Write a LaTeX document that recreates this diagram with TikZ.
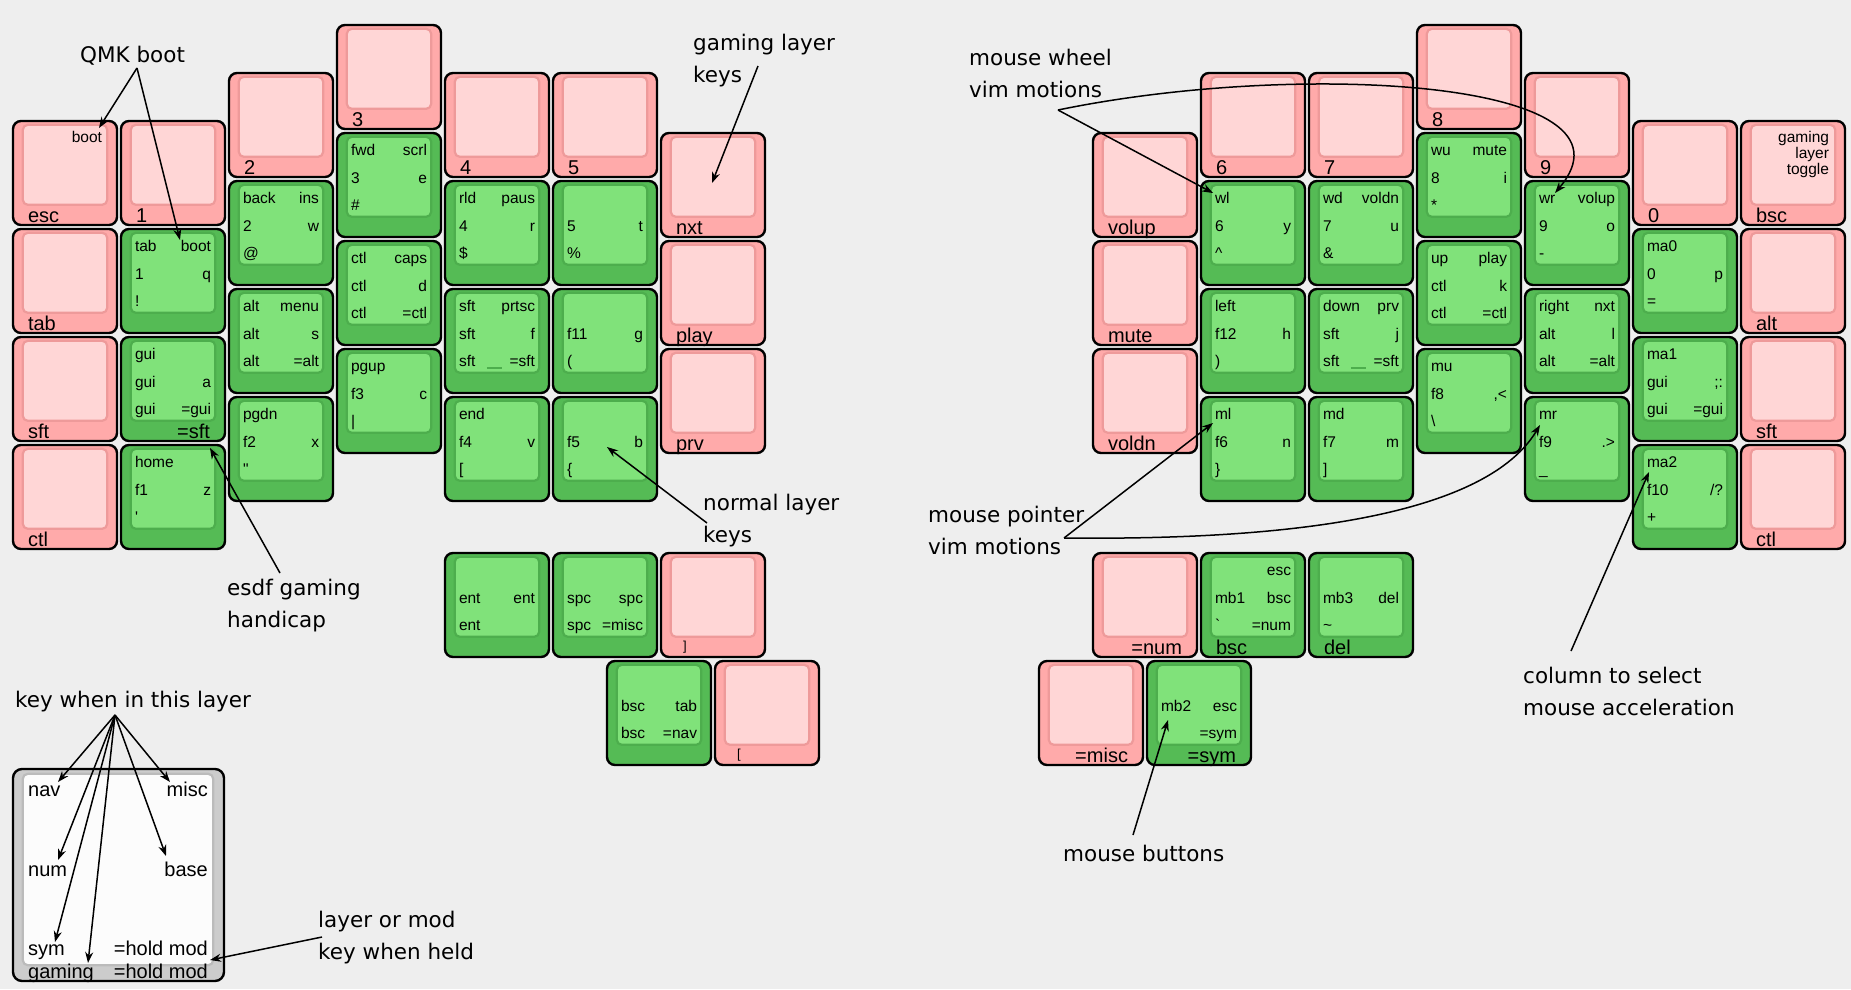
\documentclass[tikz,border=0pt]{standalone}
\usepackage{fontspec}
\setmainfont{Liberation Sans}
\newfontfamily\annfont{DejaVu Sans}
\usetikzlibrary{calc,arrows.meta}

\definecolor{bgcol}{HTML}{EEEEEE}
\definecolor{pkout}{HTML}{FFAAAA}
\definecolor{pkin}{HTML}{FFD6D6}
\definecolor{pkedge}{HTML}{EE9A9A}
\definecolor{gkout}{HTML}{55BB55}
\definecolor{gkin}{HTML}{80E27A}
\definecolor{gkedge}{HTML}{4DAE4D}
\definecolor{lgout}{HTML}{CCCCCC}
\definecolor{lgin}{HTML}{FCFCFC}
\definecolor{lgedge}{HTML}{BBBBBB}

\tikzset{
  keycap/.style={draw=black, line width=2.4pt, rounded corners=8pt,
    minimum width=104pt, minimum height=104pt, inner sep=0pt},
  ktext/.style={inner sep=0pt, font=\fontsize{15.5}{17}\selectfont},
  klabel/.style={inner sep=0pt, font=\fontsize{20}{22}\selectfont},
  ann/.style={inner sep=0pt, align=left, font=\annfont\fontsize{21.5}{32}\selectfont},
  annarrow/.style={line width=1.5pt, -{Stealth[length=11pt,width=8pt]}},
}

% key body: name, x, y, colour prefix
\newcommand{\keybody}[4]{%
  \node[keycap, fill=#4out] (#1) at (#2+53,#3+53) {};
  \filldraw[draw=#4edge, fill=#4in, line width=2.2pt, rounded corners=5pt]
    ($(#1.north west)+(11,5)$) rectangle ($(#1.north east)+(-11,85)$);
}
% bottom labels
\newcommand{\llabel}[2]{\node[klabel, anchor=base west] (#1-l) at ($(#1.north west)+(16,103)$) {#2};}
\newcommand{\rlabel}[2]{\node[klabel, anchor=base east] (#1-r) at ($(#1.north east)+(-16,103)$) {#2};}
% pink key: name, x, y, label
\newcommand{\pkey}[4]{\keybody{#1}{#2}{#3}{pk}\llabel{#1}{#4}}
% green key: name, x, y, then six legends
\newcommand{\gkey}[9]{%
  \keybody{#1}{#2}{#3}{gk}
  \node[ktext, anchor=base west] (#1-a) at ($(#1.north west)+(15,24)$) {#4};
  \node[ktext, anchor=base east] (#1-b) at ($(#1.north east)+(-15,24)$) {#5};
  \node[ktext, anchor=base west] (#1-c) at ($(#1.north west)+(15,52)$) {#6};
  \node[ktext, anchor=base east] (#1-d) at ($(#1.north east)+(-15,52)$) {#7};
  \node[ktext, anchor=base west] (#1-e) at ($(#1.north west)+(15,79)$) {#8};
  \node[ktext, anchor=base east] (#1-f) at ($(#1.north east)+(-15,79)$) {#9};
}
\newcommand{\gamemark}[1]{\draw[gkedge, line width=1.4pt] ($(#1.north west)+(43,80)$) -- ++(15,0);}

\begin{document}
\begin{tikzpicture}[x=1pt, y=-1pt]
\useasboundingbox (0,0) rectangle (1851,989);
\fill[bgcol] (0,0) rectangle (1851,989);

% left half
\pkey{esc}{12}{120}{esc}
\node[ktext, anchor=base east] (esc-b) at ($(esc.north east)+(-16,23)$) {boot};
\pkey{tab}{12}{228}{tab}
\pkey{lsft}{12}{336}{sft}
\pkey{lctl}{12}{444}{ctl}
\pkey{n1}{120}{120}{1}
\gkey{q}{120}{228}{tab}{boot}{1}{q}{!}{}
\gkey{a}{120}{336}{gui}{}{gui}{a}{gui}{=gui}
\rlabel{a}{=sft}
\gkey{z}{120}{444}{home}{}{f1}{z}{\textquotesingle}{}
\pkey{n2}{228}{72}{2}
\gkey{w}{228}{180}{back}{ins}{2}{w}{@}{}
\gkey{s}{228}{288}{alt}{menu}{alt}{s}{alt}{=alt}
\gkey{x}{228}{396}{pgdn}{}{f2}{x}{\textquotedbl}{}
\pkey{n3}{336}{24}{3}
\gkey{e}{336}{132}{fwd}{scrl}{3}{e}{\#}{}
\gkey{d}{336}{240}{ctl}{caps}{ctl}{d}{ctl}{=ctl}
\gkey{c}{336}{348}{pgup}{}{f3}{c}{|}{}
\pkey{n4}{444}{72}{4}
\gkey{r}{444}{180}{rld}{paus}{4}{r}{\$}{}
\gkey{f}{444}{288}{sft}{prtsc}{sft}{f}{sft}{=sft}
\gamemark{f}
\gkey{v}{444}{396}{end}{}{f4}{v}{[}{}
\pkey{n5}{552}{72}{5}
\gkey{t}{552}{180}{}{}{5}{t}{\%}{}
\gkey{g}{552}{288}{}{}{f11}{g}{(}{}
\gkey{b}{552}{396}{}{}{f5}{b}{\{}{}
\pkey{nxt}{660}{132}{nxt}
\pkey{play}{660}{240}{play}
\pkey{prv}{660}{348}{prv}
\gkey{ent}{444}{552}{}{}{ent}{ent}{ent}{}
\gkey{spc}{552}{552}{}{}{spc}{spc}{spc}{=misc}
\pkey{rbrk}{660}{552}{}
\node[ktext, font=\fontsize{13}{15}\selectfont, anchor=base west] (rbrk-s) at ($(rbrk.north west)+(23,99)$) {]};
\gkey{lbsc}{606}{660}{}{}{bsc}{tab}{bsc}{=nav}
\pkey{lbrk}{714}{660}{}
\node[ktext, font=\fontsize{13}{15}\selectfont, anchor=base west] (lbrk-s) at ($(lbrk.north west)+(23,99)$) {[};

% right half
\pkey{volup}{1092}{132}{volup}
\pkey{mute}{1092}{240}{mute}
\pkey{voldn}{1092}{348}{voldn}
\pkey{n6}{1200}{72}{6}
\gkey{y}{1200}{180}{wl}{}{6}{y}{\textasciicircum}{}
\gkey{h}{1200}{288}{left}{}{f12}{h}{)}{}
\gkey{nn}{1200}{396}{ml}{}{f6}{n}{\}}{}
\pkey{n7}{1308}{72}{7}
\gkey{u}{1308}{180}{wd}{voldn}{7}{u}{\&}{}
\gkey{j}{1308}{288}{down}{prv}{sft}{j}{sft}{=sft}
\gamemark{j}
\gkey{m}{1308}{396}{md}{}{f7}{m}{]}{}
\pkey{n8}{1416}{24}{8}
\gkey{i}{1416}{132}{wu}{mute}{8}{i}{*}{}
\gkey{k}{1416}{240}{up}{play}{ctl}{k}{ctl}{=ctl}
\gkey{comma}{1416}{348}{mu}{}{f8}{,<}{\textbackslash}{}
\pkey{n9}{1524}{72}{9}
\gkey{o}{1524}{180}{wr}{volup}{9}{o}{-}{}
\gkey{l}{1524}{288}{right}{nxt}{alt}{l}{alt}{=alt}
\gkey{dot}{1524}{396}{mr}{}{f9}{.>}{\_}{}
\pkey{n0}{1632}{120}{0}
\gkey{p}{1632}{228}{ma0}{}{0}{p}{=}{}
\gkey{semi}{1632}{336}{ma1}{}{gui}{;:}{gui}{=gui}
\gkey{slash}{1632}{444}{ma2}{}{f10}{/?}{+}{}
\pkey{rbsc}{1740}{120}{bsc}
\node[ktext, anchor=base east] (rbsc-t1) at ($(rbsc.north east)+(-17,23)$) {gaming};
\node[ktext, anchor=base east] (rbsc-t2) at ($(rbsc.north east)+(-17,39)$) {layer};
\node[ktext, anchor=base east] (rbsc-t3) at ($(rbsc.north east)+(-17,55)$) {toggle};
\pkey{ralt}{1740}{228}{alt}
\pkey{rsft}{1740}{336}{sft}
\pkey{rctl}{1740}{444}{ctl}
\pkey{tnum}{1092}{552}{}
\rlabel{tnum}{=num}
\gkey{rb1}{1200}{552}{}{esc}{mb1}{bsc}{\textasciigrave}{=num}
\llabel{rb1}{bsc}
\gkey{rdel}{1308}{552}{}{}{mb3}{del}{\textasciitilde}{}
\llabel{rdel}{del}
\pkey{tmisc}{1038}{660}{}
\rlabel{tmisc}{=misc}
\gkey{rsym}{1146}{660}{}{}{mb2}{esc}{}{=sym}
\rlabel{rsym}{=sym}

% legend key
\node[draw=black, line width=2.4pt, fill=lgout, rounded corners=9pt,
  minimum width=211pt, minimum height=212pt] (legend) at (118.5,875) {};
\filldraw[draw=lgedge, fill=lgin, line width=2.2pt, rounded corners=5pt]
  ($(legend.north west)+(11,6)$) rectangle ($(legend.south east)+(-12,-17)$);
\node[klabel, anchor=base west] (lg-nav) at (28,796) {nav};
\node[klabel, anchor=base east] (lg-misc) at (208,796) {misc};
\node[klabel, anchor=base west] (lg-num) at (28,876) {num};
\node[klabel, anchor=base east] (lg-base) at (208,876) {base};
\node[klabel, anchor=base west] (lg-sym) at (28,955) {sym};
\node[klabel, anchor=base east] (lg-hold) at (208,955) {=hold mod};
\node[klabel, anchor=base west] (lg-gaming) at (28,978) {gaming};
\node[klabel, anchor=base east] (lg-ghold) at (208,978) {=hold mod};

% notes
\node[ann, anchor=west] (qmk) at (80,56) {QMK boot};
\node[ann, anchor=west] (gaming) at (693,61) {gaming layer\\keys};
\node[ann, anchor=west] (normal) at (703,521) {normal layer\\keys};
\node[ann, anchor=west] (esdf) at (227,606) {esdf gaming\\handicap};
\node[ann, anchor=west] (inlayer) at (15,702) {key when in this layer};
\node[ann, anchor=west] (held) at (318,938) {layer or mod\\key when held};
\node[ann, anchor=west] (wheel) at (969,73) {mouse wheel\\vim motions};
\node[ann, anchor=west] (pointer) at (928,530) {mouse pointer\\vim motions};
\node[ann, anchor=west] (buttons) at (1063,853) {mouse buttons};
\node[ann, anchor=west] (accel) at (1523,691) {column to select\\mouse acceleration};

\coordinate (qmk-o) at (137,68);
\coordinate (qmk-t1) at (99,128);
\coordinate (qmk-t2) at (180,240);
\coordinate (gaming-o) at (758,66);
\coordinate (gaming-t) at (712,183);
\coordinate (normal-o) at (707,523);
\coordinate (normal-t) at (607,447);
\coordinate (esdf-o) at (280,573);
\coordinate (esdf-t) at (210,448);
\coordinate (inlayer-o) at (115,715);
\coordinate (held-o) at (322,937);
\coordinate (held-t) at (210,960);
\coordinate (wheel-o) at (1058,110);
\coordinate (wheel-t1) at (1213,193);
\coordinate (wheel-t2) at (1555,193);
\coordinate (pointer-o) at (1064,538);
\coordinate (pointer-t1) at (1213,423);
\coordinate (pointer-t2) at (1540,425);
\coordinate (buttons-o) at (1133,835);
\coordinate (buttons-t) at (1168,720);
\coordinate (accel-o) at (1571,651);
\coordinate (accel-t) at (1649,472);

\draw[annarrow] (qmk-o) -- (qmk-t1);
\draw[annarrow] (qmk-o) -- (qmk-t2);
\draw[annarrow] (gaming-o) -- (gaming-t);
\draw[annarrow] (normal-o) -- (normal-t);
\draw[annarrow] (esdf-o) -- (esdf-t);
\foreach \tip in {(58,782),(170,782),(58,860),(166,856),(55,942),(88,963)}
  \draw[annarrow] (inlayer-o) -- \tip;
\draw[annarrow] (held-o) -- (held-t);
\draw[annarrow] (wheel-o) -- (wheel-t1);
\draw[annarrow] (wheel-o) .. controls (1300,60) and (1650,80) .. (wheel-t2);
\draw[annarrow] (pointer-o) -- (pointer-t1);
\draw[annarrow] (pointer-o) .. controls (1250,540) and (1480,525) .. (pointer-t2);
\draw[annarrow] (buttons-o) -- (buttons-t);
\draw[annarrow] (accel-o) -- (accel-t);
\end{tikzpicture}
\end{document}
